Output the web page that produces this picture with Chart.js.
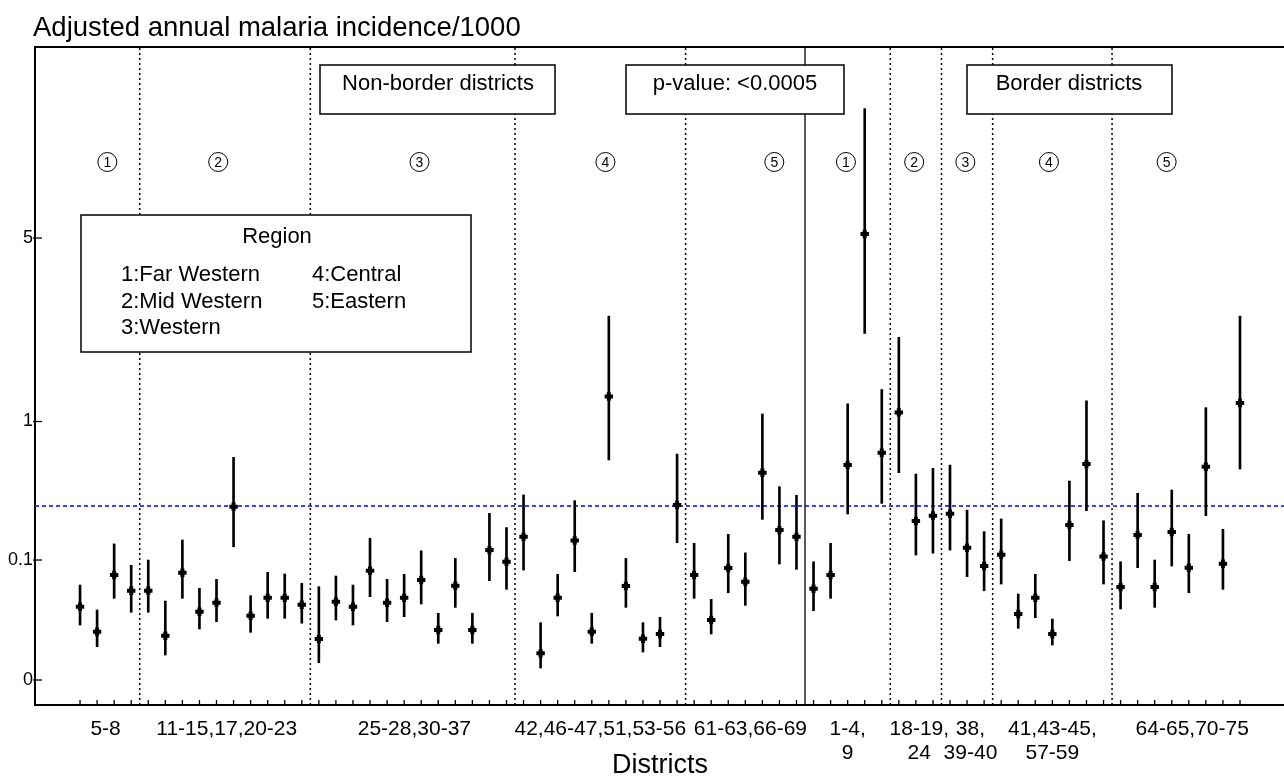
<!DOCTYPE html>
<html>
<head>
<meta charset="utf-8">
<script src="https://cdn.jsdelivr.net/npm/chart.js@4.4.1/dist/chart.umd.min.js"></script>
<style>
  html, body { margin: 0; padding: 0; background: #fff; }
  #wrap { width: 1284px; height: 780px; }
</style>
</head>
<body>
<div id="wrap"><canvas id="myChart" width="1284" height="780"></canvas></div>
<script>
// adjusted annual incidence per 1000, one value per district (left: non-border, right: border)
const estimates = [
  0.0228, 0.00652, 0.0670, 0.0412,
  0.0412, 0.00503, 0.0715, 0.0184, 0.0267, 0.301, 0.0154, 0.0323, 0.0323, 0.0247,
  0.00399, 0.0278, 0.0228, 0.0756, 0.0267, 0.0323, 0.0579, 0.00724, 0.0486, 0.00724, 0.127, 0.0958,
  0.170, 0.0011, 0.0323, 0.157, 0.00652, 1.32, 0.0481, 0.00408, 0.00563, 0.310,
  0.0670, 0.0125, 0.0813, 0.0550, 0.516, 0.195, 0.170,
  0.0441, 0.0670, 0.575, 5.14, 0.680,
  1.11, 0.233, 0.257,
  0.266, 0.134, 0.0858,
  0.114, 0.0166, 0.0323, 0.00563, 0.216, 0.583, 0.109,
  0.0466, 0.177, 0.0466, 0.188, 0.0820, 0.562, 0.0911, 1.23
];
const lowerCI = [
  0.00963, 0.00214, 0.0316, 0.0180,
  0.0180, 0.000905, 0.0316, 0.00768, 0.0115, 0.137, 0.00628, 0.0136, 0.0136, 0.0106,
  0.0003, 0.0125, 0.00963, 0.0335, 0.0115, 0.0147, 0.0254, 0.00286, 0.0222, 0.00286, 0.0567, 0.0432,
  0.0770, 0.0001, 0.0152, 0.0735, 0.00286, 0.617, 0.0222, 0.00127, 0.00214, 0.150,
  0.0316, 0.00563, 0.0385, 0.0241, 0.240, 0.0904, 0.0785,
  0.0193, 0.0316, 0.265, 2.41, 0.319,
  0.516, 0.113, 0.118,
  0.127, 0.0638, 0.0412,
  0.0512, 0.008, 0.0140, 0.00248, 0.0983, 0.281, 0.0512,
  0.0207, 0.0820, 0.0222, 0.0858, 0.0385, 0.257, 0.0432, 0.544
];
const upperCI = [
  0.0496, 0.0199, 0.146, 0.0874,
  0.100, 0.0285, 0.159, 0.0446, 0.0591, 0.639, 0.0347, 0.0723, 0.0690, 0.0524,
  0.0470, 0.0651, 0.0496, 0.165, 0.0591, 0.0684, 0.125, 0.0172, 0.104, 0.0172, 0.268, 0.205,
  0.367, 0.0109, 0.0684, 0.334, 0.0172, 2.79, 0.104, 0.0109, 0.0143, 0.668,
  0.148, 0.0304, 0.179, 0.119, 1.09, 0.418, 0.365,
  0.0958, 0.148, 1.22, 10.8, 1.42,
  2.33, 0.506, 0.549,
  0.575, 0.284, 0.189,
  0.242, 0.0368, 0.0684, 0.0131, 0.456, 1.26, 0.234,
  0.0958, 0.377, 0.100, 0.397, 0.179, 1.17, 0.198, 2.79
];
const nationalRate = 0.305;
const yTickValues = [0, 0.1, 1, 5];
const yTickLabels = ['0', '0.1', '1', '5'];
const regionDividers = [3.5, 13.5, 25.5, 35.5, 47.5, 50.5, 53.5, 60.5];
const borderSplit = 42.5;
const groupLabels = [
  ['5-8'], ['11-15,17,20-23'], ['25-28,30-37'], ['42,46-47,51,53-56'], ['61-63,66-69'],
  ['1-4,', '9'], ['18-19,', '24'], ['38,', '39-40'], ['41,43-45,', '57-59'], ['64-65,70-75']
];
const regionNumbers = ['1', '2', '3', '4', '5', '1', '2', '3', '4', '5'];
const regionNames = ['1:Far Western', '2:Mid Western', '3:Western', '4:Central', '5:Eastern'];

// layout (index units along x)
const groupLabelX = [1.5, 8.6, 19.6, 30.5, 39.3, 45.0, 49.2, 52.2, 57.0, 65.2];
const circleX = [1.6, 8.1, 19.9, 30.8, 40.7, 44.9, 48.9, 51.9, 56.8, 63.7];
const FONT = '"Liberation Sans", Arial, sans-serif';

const cbrt = v => Math.cbrt(v);
const xMin = -2.64, xMax = 70.58;
const yMin = -0.0967, yMax = 2.449;

const lineSet = (pts, color, dash, width) => ({
  type: 'line', data: pts, borderColor: color, borderDash: dash, borderWidth: width,
  pointRadius: 0, fill: false, order: 5
});

const datasets = [
  {
    type: 'scatter', label: 'estimate',
    data: estimates.map((v, i) => ({ x: i, y: cbrt(v) })),
    pointStyle: 'cross', pointRadius: 4.2, borderWidth: 4,
    borderColor: '#000', backgroundColor: '#000', order: 1
  },
  {
    type: 'bar', label: 'ci',
    data: estimates.map((v, i) => ({ x: i, y: [cbrt(lowerCI[i]), cbrt(upperCI[i])] })),
    backgroundColor: '#000', barThickness: 2, grouped: false, order: 2
  },
  lineSet([{ x: xMin, y: cbrt(nationalRate) }, { x: xMax, y: cbrt(nationalRate) }], '#0000ff', [4, 3], 1.5),
  lineSet([{ x: borderSplit, y: yMin }, { x: borderSplit, y: yMax }], '#000', [], 1.3)
];
regionDividers.forEach(d => datasets.push(lineSet([{ x: d, y: yMin }, { x: d, y: yMax }], '#000', [2, 3], 1.5)));

function box(ctx, x, y, w, h) {
  ctx.fillStyle = '#fff';
  ctx.fillRect(x, y, w, h);
  ctx.strokeStyle = '#000';
  ctx.lineWidth = 1.5;
  ctx.strokeRect(x, y, w, h);
}

const annotate = {
  id: 'annotate',
  afterDatasetsDraw(chart) {
    const { ctx, chartArea: a, scales: { x, y } } = chart;
    ctx.save();
    ctx.strokeStyle = '#000';
    ctx.lineWidth = 2;
    ctx.beginPath();
    ctx.moveTo(a.left - 1, a.top);
    ctx.lineTo(a.right, a.top);
    ctx.stroke();

    // small ticks at each district and at the y values
    ctx.lineWidth = 1.3;
    estimates.forEach((v, i) => {
      const px = x.getPixelForValue(i);
      ctx.beginPath();
      ctx.moveTo(px, a.bottom);
      ctx.lineTo(px, a.bottom - 5);
      ctx.stroke();
    });
    yTickValues.forEach(v => {
      const py = y.getPixelForValue(cbrt(v));
      ctx.beginPath();
      ctx.moveTo(a.left - 2, py);
      ctx.lineTo(a.left + 7, py);
      ctx.stroke();
    });

    // circled region numbers
    ctx.textAlign = 'center';
    ctx.textBaseline = 'middle';
    ctx.lineWidth = 1;
    ctx.font = '14px ' + FONT;
    circleX.forEach((cx, i) => {
      const px = x.getPixelForValue(cx);
      ctx.beginPath();
      ctx.arc(px, 162, 9.5, 0, Math.PI * 2);
      ctx.stroke();
      ctx.fillStyle = '#000';
      ctx.fillText(regionNumbers[i], px, 163);
    });

    // header boxes
    ctx.font = '22px ' + FONT;
    box(ctx, 320, 65, 235, 49);
    box(ctx, 626, 65, 218, 49);
    box(ctx, 967, 65, 205, 49);
    ctx.fillStyle = '#000';
    ctx.fillText('Non-border districts', 438, 84);
    ctx.fillText('p-value: <0.0005', 735, 84);
    ctx.fillText('Border districts', 1069, 84);

    // region key
    box(ctx, 81, 215, 390, 137);
    ctx.fillStyle = '#000';
    ctx.fillText('Region', 277, 237);
    ctx.textAlign = 'left';
    ctx.fillText(regionNames[0], 121, 275);
    ctx.fillText(regionNames[1], 121, 302);
    ctx.fillText(regionNames[2], 121, 328);
    ctx.fillText(regionNames[3], 312, 275);
    ctx.fillText(regionNames[4], 312, 302);
    ctx.restore();
  },
  afterDraw(chart) {
    const { ctx, scales: { x } } = chart;
    ctx.save();
    ctx.fillStyle = '#000';
    ctx.textBaseline = 'middle';
    ctx.textAlign = 'left';
    ctx.font = '27.5px ' + FONT;
    ctx.fillText('Adjusted annual malaria incidence/1000', 33, 28);
    ctx.textAlign = 'center';
    ctx.font = '21px ' + FONT;
    groupLabels.forEach((lines, i) => {
      const px = x.getPixelForValue(groupLabelX[i]);
      lines.forEach((t, j) => ctx.fillText(t, px, 729 + j * 24));
    });
    ctx.font = '27px ' + FONT;
    ctx.fillText('Districts', 660, 766);
    ctx.restore();
  }
};

new Chart(document.getElementById('myChart').getContext('2d'), {
  type: 'scatter',
  data: { datasets },
  plugins: [annotate],
  options: {
    responsive: false,
    animation: false,
    layout: { autoPadding: false, padding: { top: 47, bottom: 75, left: 0, right: 0 } },
    plugins: { legend: { display: false }, tooltip: { enabled: false } },
    scales: {
      x: {
        type: 'linear', min: xMin, max: xMax, offset: false,
        grid: { display: false, drawTicks: false },
        border: { display: true, color: '#000', width: 2 },
        ticks: { display: false },
        afterFit: s => { s.height = 0; }
      },
      y: {
        type: 'linear', min: yMin, max: yMax,
        grid: { display: false, drawTicks: false },
        border: { display: true, color: '#000', width: 2 },
        afterBuildTicks: s => { s.ticks = yTickValues.map(v => ({ value: cbrt(v) })); },
        ticks: {
          color: '#000', padding: 2,
          font: { family: FONT, size: 18 },
          callback: (val, i) => yTickLabels[i]
        },
        afterFit: s => { s.width = 35; }
      }
    }
  }
});
</script>
</body>
</html>
